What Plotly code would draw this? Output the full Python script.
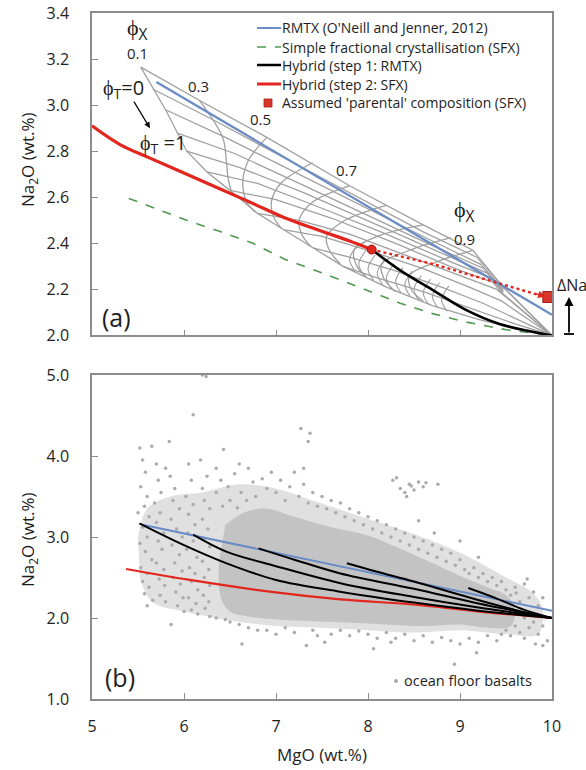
import plotly.graph_objects as go

# ---------------- Panel (a) data ----------------
rmtx_x = [5.70, 6.355, 7.26, 8.5, 10.0]
rmtx_y = [3.10, 2.946, 2.733, 2.44, 2.09]

sfx_x = [5.4, 5.7, 6.03, 6.4, 6.75, 7.1, 7.48, 7.9, 8.35, 8.7, 9.07, 9.5, 10.0]
sfx_y = [2.595, 2.55, 2.50, 2.45, 2.40, 2.33, 2.275, 2.21, 2.14, 2.095, 2.058, 2.025, 2.0]

hyb1_x = [8.04, 8.35, 8.71, 9.07, 9.43, 10.0]
hyb1_y = [2.373, 2.283, 2.196, 2.11, 2.05, 2.0]

hyb2_x = [5.0, 5.3, 5.63, 6.03, 6.4, 6.75, 7.1, 7.48, 7.8, 8.04]
hyb2_y = [2.91, 2.83, 2.77, 2.70, 2.635, 2.573, 2.51, 2.455, 2.41, 2.373]

dot_x = [8.04, 8.71, 9.43, 9.87]
dot_y = [2.373, 2.31, 2.226, 2.174]

parent_x = [9.96]
parent_y = [2.167]

# gray model mesh (constant phi_T lines)
fan_lines = [
    ([5.53, 6.17, 6.9, 7.8, 8.6, 9.14, 9.47, 10.0], [3.165, 3.02, 2.86, 2.65, 2.48, 2.37, 2.21, 2.0]),
    ([5.66, 6.3, 7.0, 7.8, 8.6, 9.18, 9.47, 10.0], [3.07, 2.94, 2.79, 2.62, 2.45, 2.34, 2.21, 2.0]),
    ([5.8, 6.45, 7.1, 7.9, 8.65, 9.22, 9.47], [2.98, 2.86, 2.73, 2.57, 2.42, 2.31, 2.20]),
    ([5.92, 6.55, 7.2, 8.0, 8.7, 9.26, 9.47], [2.88, 2.79, 2.67, 2.52, 2.39, 2.29, 2.20]),
    ([6.03, 6.6, 7.3, 8.1, 8.8, 9.3, 9.47], [2.80, 2.73, 2.62, 2.48, 2.36, 2.27, 2.19]),
    ([6.25, 6.8, 7.45, 8.2, 8.9, 9.33, 9.47], [2.71, 2.66, 2.56, 2.44, 2.32, 2.25, 2.19]),
    ([6.5, 7.0, 7.6, 8.3, 8.95, 9.36, 9.47, 10.0], [2.63, 2.59, 2.51, 2.40, 2.29, 2.23, 2.18, 2.0]),
    ([6.8, 7.25, 7.8, 8.4, 9.0, 9.4, 10.0], [2.53, 2.50, 2.44, 2.35, 2.26, 2.20, 2.0]),
    ([7.08, 7.5, 8.0, 8.6, 9.1, 9.45, 10.0], [2.46, 2.43, 2.37, 2.29, 2.21, 2.15, 2.0]),
    ([7.4, 7.8, 8.3, 8.8, 9.25, 10.0], [2.38, 2.34, 2.28, 2.21, 2.14, 2.0]),
    ([7.73, 8.1, 8.6, 9.1, 9.6, 10.0], [2.30, 2.25, 2.19, 2.12, 2.05, 2.0]),
]
# lower-left boundary (phi_X = 0.1, phi_T 0 -> 1) and its continuation
boundary_x = [5.53, 5.8, 6.03, 6.25, 6.5, 6.8, 7.08, 7.4, 7.73, 8.2, 8.7, 9.2, 9.6, 10.0]
boundary_y = [3.165, 2.98, 2.80, 2.71, 2.63, 2.53, 2.46, 2.38, 2.30, 2.21, 2.13, 2.07, 2.03, 2.0]
# constant phi_X arcs
arc_lines = [
    ([6.17, 6.42, 6.46, 6.48, 6.52], [3.02, 2.86, 2.76, 2.68, 2.62]),
    ([6.9, 6.7, 6.64, 6.68, 6.78], [2.86, 2.76, 2.67, 2.58, 2.535]),
    ([7.4, 7.05, 6.95, 6.98, 7.06], [2.75, 2.66, 2.58, 2.51, 2.465]),
    ([7.8, 7.4, 7.25, 7.28, 7.38], [2.65, 2.58, 2.50, 2.44, 2.385]),
    ([8.2, 7.75, 7.55, 7.58, 7.7], [2.565, 2.50, 2.43, 2.37, 2.31]),
    ([8.6, 8.1, 7.85, 7.88, 7.98], [2.48, 2.43, 2.37, 2.30, 2.255]),
    ([8.9, 8.45, 8.15, 8.17, 8.3], [2.425, 2.37, 2.31, 2.25, 2.19]),
    ([9.14, 8.75, 8.45, 8.47, 8.6], [2.37, 2.32, 2.26, 2.20, 2.15]),
]
small_arcs = [
    ([7.88, 7.80, 7.86], [2.39, 2.33, 2.28]),
    ([7.98, 7.90, 7.96], [2.37, 2.31, 2.26]),
    ([8.08, 8.00, 8.06], [2.35, 2.29, 2.24]),
    ([8.18, 8.10, 8.16], [2.33, 2.27, 2.22]),
    ([8.28, 8.20, 8.26], [2.31, 2.25, 2.20]),
    ([8.38, 8.30, 8.36], [2.295, 2.235, 2.185]),
    ([8.48, 8.40, 8.46], [2.28, 2.22, 2.17]),
    ([8.58, 8.50, 8.56], [2.26, 2.20, 2.15]),
    ([8.68, 8.60, 8.66], [2.245, 2.185, 2.135]),
    ([8.78, 8.70, 8.76], [2.23, 2.17, 2.12]),
    ([8.88, 8.80, 8.86], [2.215, 2.155, 2.105]),
]

# ---------------- Panel (b) data ----------------
b_rmtx_x = [5.55, 7.7, 10.0]
b_rmtx_y = [3.15, 2.64, 2.09]

b_red_x = [5.37, 6.065, 6.93, 7.70, 8.57, 9.3, 10.0]
b_red_y = [2.605, 2.47, 2.325, 2.23, 2.16, 2.07, 2.0]

b_black = [
    ([5.515, 6.0, 6.464, 7.0, 7.696, 8.5, 9.2, 10.0], [3.169, 2.90, 2.675, 2.47, 2.325, 2.19, 2.09, 2.0]),
    ([6.10, 6.46, 7.0, 7.70, 8.5, 9.2, 10.0], [3.03, 2.82, 2.64, 2.43, 2.26, 2.13, 2.0]),
    ([6.81, 7.2, 7.70, 8.5, 9.2, 10.0], [2.86, 2.72, 2.55, 2.36, 2.18, 2.0]),
    ([7.77, 8.1, 8.5, 9.11, 9.6, 10.0], [2.675, 2.57, 2.45, 2.25, 2.10, 2.0]),
    ([9.09, 9.4, 9.7, 10.0], [2.37, 2.24, 2.10, 2.0]),
]

# density outline of the ocean-floor-basalt cloud
cloud_outer_x = [5.5, 5.6, 5.85, 6.2, 6.6, 7.0, 7.4, 7.8, 8.2, 8.7, 9.1, 9.5, 9.8, 9.9, 9.85, 9.5, 9.0, 8.5, 8.0, 7.5, 7.0, 6.5, 6.0, 5.65, 5.52]
cloud_outer_y = [3.0, 3.35, 3.5, 3.55, 3.65, 3.6, 3.45, 3.3, 3.15, 2.95, 2.75, 2.5, 2.3, 2.1, 1.8, 1.8, 1.85, 1.82, 1.85, 1.88, 1.9, 1.97, 2.08, 2.2, 2.5]
cloud_core_x = [6.45, 6.65, 6.9, 7.2, 7.6, 8.0, 8.3, 8.7, 9.0, 9.3, 9.5, 9.6, 9.55, 9.3, 9.0, 8.6, 8.2, 7.8, 7.4, 7.0, 6.7, 6.5, 6.4, 6.38]
cloud_core_y = [3.15, 3.3, 3.35, 3.25, 3.12, 3.02, 2.88, 2.68, 2.52, 2.38, 2.28, 2.12, 1.9, 1.88, 1.92, 1.9, 1.92, 1.94, 1.96, 1.98, 2.02, 2.08, 2.25, 2.7]

ofb_x = [5.52, 5.55, 5.58, 5.53, 5.6, 5.57, 5.62, 5.5, 5.55, 5.6, 5.52, 5.58, 5.65, 5.53, 5.6, 5.55, 5.62, 5.57, 5.66, 5.6,
         5.7, 5.72, 5.75, 5.68, 5.74, 5.7, 5.78, 5.72, 5.76, 5.7, 5.78, 5.73, 5.79, 5.74, 5.8, 5.86, 5.65, 5.84, 5.8,
         5.85, 5.9, 5.88, 5.95, 5.86, 5.92, 5.98, 5.87, 5.95, 5.9, 5.98, 5.88, 5.96, 5.91, 5.99, 5.93, 6.0,
         6.05, 6.08, 6.02, 6.1, 6.05, 6.12, 6.04, 6.1, 6.03, 6.14, 6.06, 6.12, 6.08, 6.15, 6.05, 6.13, 6.08, 6.15,
         6.2, 6.25, 6.22, 6.28, 6.2, 6.26, 6.22, 6.28, 6.2, 6.27, 6.22, 6.28, 6.21, 6.27, 6.23, 6.28, 6.10, 6.20, 6.24, 6.18,
         6.35, 6.43, 6.4, 6.48, 6.35, 6.55, 6.6, 6.62, 6.7, 6.75, 6.68, 6.5, 6.42, 6.58, 6.78, 6.63, 6.5, 6.7, 6.45, 6.35, 6.6, 6.8,
         6.85, 6.9, 6.95, 7.0, 7.05, 7.1, 7.15, 7.2, 7.25, 7.3, 7.35, 7.4, 7.45, 7.27, 7.35, 7.37, 7.3, 6.9, 7.0, 7.1, 7.2, 7.33, 7.53, 7.4, 7.45,
         7.5, 7.55, 7.6, 7.65, 7.7, 7.75, 7.8, 7.85, 7.9, 7.95, 8.0, 8.05, 8.1, 8.15, 8.2, 8.25, 7.6, 7.7, 7.8, 7.9, 8.0, 8.06, 8.1, 8.2, 8.25,
         8.27, 8.31, 8.35, 8.4, 8.45, 8.47, 8.5, 8.55, 8.6, 8.63, 8.76, 8.42, 8.3, 8.35, 8.4, 8.45, 8.5, 8.55, 8.6, 8.65, 8.7, 8.75, 8.8,
         8.3, 8.4, 8.5, 8.6, 8.7, 8.8, 8.55, 8.72,
         8.85, 8.9, 8.95, 9.0, 9.05, 9.1, 9.15, 9.2, 9.25, 9.3, 9.35, 9.4, 9.45, 8.9, 9.0, 9.1, 9.18, 8.94, 9.2, 9.3, 9.4, 9.45, 9.0, 9.2,
         9.5, 9.55, 9.6, 9.61, 9.65, 9.7, 9.73, 9.75, 9.8, 9.85, 9.9, 9.5, 9.55, 9.6, 9.65, 9.7, 9.75, 9.82, 9.9, 9.85, 9.95, 9.6, 9.7, 9.8, 9.9]
ofb_y = [4.10, 3.95, 3.80, 3.62, 3.5, 3.38, 3.25, 3.3, 3.12, 3.0, 2.92, 2.82, 2.72, 2.62, 2.55, 2.45, 2.38, 2.30, 2.22, 2.15,
         3.9, 3.7, 3.55, 3.42, 3.3, 3.18, 3.05, 2.95, 2.85, 2.68, 2.6, 2.48, 2.4, 2.28, 2.2, 1.92, 4.12, 4.18, 3.85,
         3.75, 3.6, 3.45, 3.35, 3.22, 3.1, 3.0, 2.9, 2.78, 2.68, 2.58, 2.5, 2.42, 2.32, 2.25, 2.15, 2.08,
         3.9, 3.7, 3.5, 3.4, 3.28, 3.15, 3.05, 2.95, 2.85, 2.75, 2.62, 2.55, 2.45, 2.35, 2.25, 2.18, 2.1, 2.05,
         3.6, 3.75, 3.45, 3.35, 3.22, 3.1, 2.98, 2.88, 2.7, 2.6, 2.5, 2.4, 2.28, 2.2, 2.12, 2.02, 4.51, 5.0, 4.98, 3.95,
         3.85, 4.08, 3.7, 3.62, 3.55, 3.78, 3.9, 3.55, 3.85, 3.68, 3.45, 3.45, 3.38, 3.36, 3.5, 1.68, 1.95, 1.88, 1.98, 2.0, 1.92, 1.85,
         3.72, 3.6, 3.8, 3.55, 3.7, 3.45, 3.62, 3.8, 3.5, 3.65, 3.42, 3.55, 3.38, 4.34, 4.18, 4.28, 3.85, 1.85, 1.8, 1.88, 1.82, 1.66, 1.70, 1.85, 1.78,
         3.5, 3.35, 3.45, 3.3, 3.42, 3.25, 3.35, 3.2, 3.3, 3.15, 3.25, 3.1, 3.2, 3.05, 3.15, 3.0, 1.8, 1.85, 1.78, 1.84, 1.8, 1.62, 1.75, 1.82, 1.7,
         3.7, 3.73, 3.6, 3.55, 3.65, 3.63, 3.58, 3.68, 3.62, 3.67, 3.65, 3.5, 3.1, 2.95, 3.05, 2.9, 3.0, 2.85, 2.95, 2.8, 2.9, 2.75, 2.85,
         1.75, 1.8, 1.72, 1.78, 1.7, 1.76, 3.2, 3.05,
         2.7, 2.8, 2.65, 2.72, 2.6, 2.55, 2.62, 2.5, 2.55, 2.45, 2.5, 2.4, 2.45, 1.72, 1.68, 1.75, 1.57, 1.43, 1.7, 1.78, 1.72, 1.8, 2.95, 2.75,
         2.35, 2.28, 2.38, 2.31, 2.2, 2.42, 2.48, 2.25, 2.32, 2.15, 2.25, 1.85, 1.78, 1.9, 1.82, 1.75, 1.88, 1.68, 1.66, 1.8, 1.72, 2.05, 2.0, 1.95, 1.9]

# ---------------- colours ----------------
C_BLUE = "#6b8cc6"
C_GREEN = "#4f9a50"
C_RED = "#e2261d"
C_GRAY = "#a0a0a0"
C_FRAME = "#8c8c8c"
FONT = "Open Sans"
TXT = "#1e1e1e"

fig = go.Figure()

def add_line(x, y, color, width, dash="solid", xa="x", ya="y", shape="linear", opacity=1.0):
    fig.add_trace(go.Scatter(x=x, y=y, mode="lines", xaxis=xa, yaxis=ya, opacity=opacity,
                             line=dict(color=color, width=width, dash=dash, shape=shape),
                             hoverinfo="skip", showlegend=False))

# panel (a) mesh
for fx, fy in fan_lines:
    add_line(fx, fy, C_GRAY, 1.3)
add_line(boundary_x, boundary_y, C_GRAY, 1.3)
for ax_, ay_ in arc_lines:
    add_line(ax_, ay_, C_GRAY, 1.3, shape="spline")
for sx, sy in small_arcs:
    add_line(sx, sy, C_GRAY, 1.1, shape="spline")

add_line(sfx_x, sfx_y, C_GREEN, 1.6, dash="dash")
add_line(rmtx_x, rmtx_y, C_BLUE, 2.3)
add_line(dot_x, dot_y, C_RED, 2.4, dash="dot")
add_line(hyb2_x, hyb2_y, C_RED, 3.2, shape="spline")
add_line(hyb1_x, hyb1_y, "black", 2.6, shape="spline")
fig.add_trace(go.Scatter(x=[hyb1_x[0]], y=[hyb1_y[0]], mode="markers", hoverinfo="skip", showlegend=False,
                         marker=dict(size=9, color=C_RED, line=dict(color="#9a1a12", width=1))))
fig.add_trace(go.Scatter(x=parent_x, y=parent_y, mode="markers", hoverinfo="skip", showlegend=False,
                         marker=dict(size=11, symbol="square", color="#d8352b", line=dict(color="#a02018", width=1))))

# panel (b)
fig.add_trace(go.Scatter(x=cloud_outer_x, y=cloud_outer_y, mode="lines", fill="toself", fillcolor="#e0e0e0",
                         line=dict(width=0, shape="spline"), xaxis="x2", yaxis="y2", hoverinfo="skip", showlegend=False))
fig.add_trace(go.Scatter(x=cloud_core_x, y=cloud_core_y, mode="lines", fill="toself", fillcolor="#c3c3c3",
                         line=dict(width=0, shape="spline"), xaxis="x2", yaxis="y2", hoverinfo="skip", showlegend=False))
fig.add_trace(go.Scatter(x=ofb_x, y=ofb_y, mode="markers", xaxis="x2", yaxis="y2", hoverinfo="skip", showlegend=False,
                         marker=dict(size=3.5, color="#ababab")))
add_line(b_red_x, b_red_y, C_RED, 2.2, xa="x2", ya="y2", shape="spline")
add_line(b_rmtx_x, b_rmtx_y, C_BLUE, 2.0, xa="x2", ya="y2")
for bx, by in b_black:
    add_line(bx, by, "black", 2.0, xa="x2", ya="y2", shape="spline")

# ---------------- layout ----------------
W, H = 586, 770
ML, MR, MT, MB = 92, 34, 13, 71
PW, PH = W - ML - MR, H - MT - MB

def P(px, py):
    return (px - ML) / PW, (H - MB - py) / PH

ax_common = dict(showline=True, linecolor=C_FRAME, linewidth=1.5, mirror=True, ticks="inside", ticklen=6,
                 tickcolor=C_FRAME, tickwidth=1.2, showgrid=False, zeroline=False, automargin=False,
                 tickfont=dict(family=FONT, size=16, color=TXT))

fig.update_layout(
    width=W, height=H, margin=dict(l=ML, r=MR, t=MT, b=MB, autoexpand=False),
    paper_bgcolor="white", plot_bgcolor="white", showlegend=False,
    font=dict(family=FONT, color=TXT),
    xaxis=dict(ax_common, range=[5, 10], tickvals=[6, 7, 8, 9], showticklabels=False, anchor="y", domain=[0, 1]),
    yaxis=dict(ax_common, range=[2.0, 3.4], dtick=0.2, tickformat=".1f", anchor="x", domain=[0.5299, 1.0],
               ticklabelstandoff=18),
    xaxis2=dict(ax_common, range=[5, 10], dtick=1, anchor="y2", domain=[0, 1], ticklabelstandoff=12),
    yaxis2=dict(ax_common, range=[1.0, 5.0], dtick=1, tickformat=".1f", anchor="x2", domain=[0, 0.4723],
                ticklabelstandoff=18),
)

ann = []
def T(text, x, y, size, xref="x", yref="y", xanchor="center", **kw):
    ann.append(dict(text=text, x=x, y=y, xref=xref, yref=yref, showarrow=False, xanchor=xanchor,
                    yanchor="middle", font=dict(family=FONT, size=size, color=TXT), **kw))

# axis titles
px_, py_ = P(28, 160)
T("Na<sub>2</sub>O (wt.%)", px_, py_, 17, xref="paper", yref="paper", textangle=-90)
px_, py_ = P(28, 540)
T("Na<sub>2</sub>O (wt.%)", px_, py_, 17, xref="paper", yref="paper", textangle=-90)
px_, py_ = P(322, 754)
T("MgO (wt.%)", px_, py_, 17, xref="paper", yref="paper")

# panel (a) labels
T("ϕ<sub>X</sub>", 5.49, 3.335, 22)
T("0.1", 5.49, 3.226, 15)
T("ϕ<sub>T</sub>=0", 5.34, 3.074, 20)
T("ϕ<sub>T</sub> =1", 5.77, 2.835, 20)
T("0.3", 6.16, 3.083, 15)
T("0.5", 6.83, 2.939, 15)
T("0.7", 7.77, 2.717, 15)
T("ϕ<sub>X</sub>", 9.05, 2.545, 22)
T("0.9", 9.05, 2.42, 15)
T("(a)", 5.27, 2.08, 25)
ann.append(dict(x=5.63, y=2.90, ax=5.446, ay=3.022, xref="x", yref="y", axref="x", ayref="y", text="",
                showarrow=True, arrowhead=2, arrowsize=1, arrowwidth=1.2, arrowcolor="black"))
ann.append(dict(x=9.93, y=2.168, ax=9.80, ay=2.185, xref="x", yref="y", axref="x", ayref="y", text="",
                showarrow=True, arrowhead=2, arrowsize=1, arrowwidth=1.5, arrowcolor=C_RED))
px_, py_ = P(555, 285)
T("ΔNa", px_, py_, 16, xref="paper", yref="paper", xanchor="left")
hx, hy = P(569, 297)
ann.append(dict(x=hx, y=hy, ax=0, ay=37, xref="paper", yref="paper", text="",
                showarrow=True, arrowhead=2, arrowsize=1, arrowwidth=1.8, arrowcolor="black"))

# panel (b) labels
T("(b)", 5.3, 1.27, 25, xref="x2", yref="y2")
px_, py_ = P(402, 680)
T("ocean floor basalts", px_, py_, 14.5, xref="paper", yref="paper", xanchor="left")

# legend (manual)
legend_rows = [
    ("RMTX (O'Neill and Jenner, 2012)", 28, "line", C_BLUE, "solid", 2.0),
    ("Simple fractional crystallisation (SFX)", 47, "line", C_GREEN, "dash", 1.5),
    ("Hybrid (step 1: RMTX)", 65, "line", "black", "solid", 2.5),
    ("Hybrid (step 2: SFX)", 84, "line", C_RED, "solid", 3.0),
    ("Assumed 'parental' composition (SFX)", 103, "square", "#d8352b", "solid", 0),
]
shapes = []
for text, ry, kind, col, dash, w in legend_rows:
    x0, y0 = P(257, ry)
    x1, _ = P(281, ry)
    if kind == "line":
        shapes.append(dict(type="line", xref="paper", yref="paper", x0=x0, x1=x1, y0=y0, y1=y0,
                           line=dict(color=col, width=w, dash=dash)))
    else:
        sx0, sy0 = P(264, ry - 4)
        sx1, sy1 = P(272, ry + 4)
        shapes.append(dict(type="rect", xref="paper", yref="paper", x0=sx0, x1=sx1, y0=sy1, y1=sy0,
                           fillcolor=col, line=dict(color="#a02018", width=0.8)))
    tx_, ty_ = P(280, ry)
    T(text, tx_, ty_, 14, xref="paper", yref="paper", xanchor="left")

# ΔNa base bar
bx0, by0 = P(564, 334)
bx1, _ = P(574, 334)
shapes.append(dict(type="line", xref="paper", yref="paper", x0=bx0, x1=bx1, y0=by0, y1=by0,
                   line=dict(color="black", width=1.8)))
# dot symbol before "ocean floor basalts"
dx0, dy0 = P(394, 679)
dx1, dy1 = P(398, 683)
shapes.append(dict(type="circle", xref="paper", yref="paper", x0=dx0, x1=dx1, y0=dy1, y1=dy0,
                   fillcolor="#aaaaaa", line=dict(width=0)))

fig.update_layout(annotations=ann, shapes=shapes)
fig.write_html("out.html", config={"displayModeBar": False},
               post_script="document.body.style.margin='0';document.body.style.padding='0';")
